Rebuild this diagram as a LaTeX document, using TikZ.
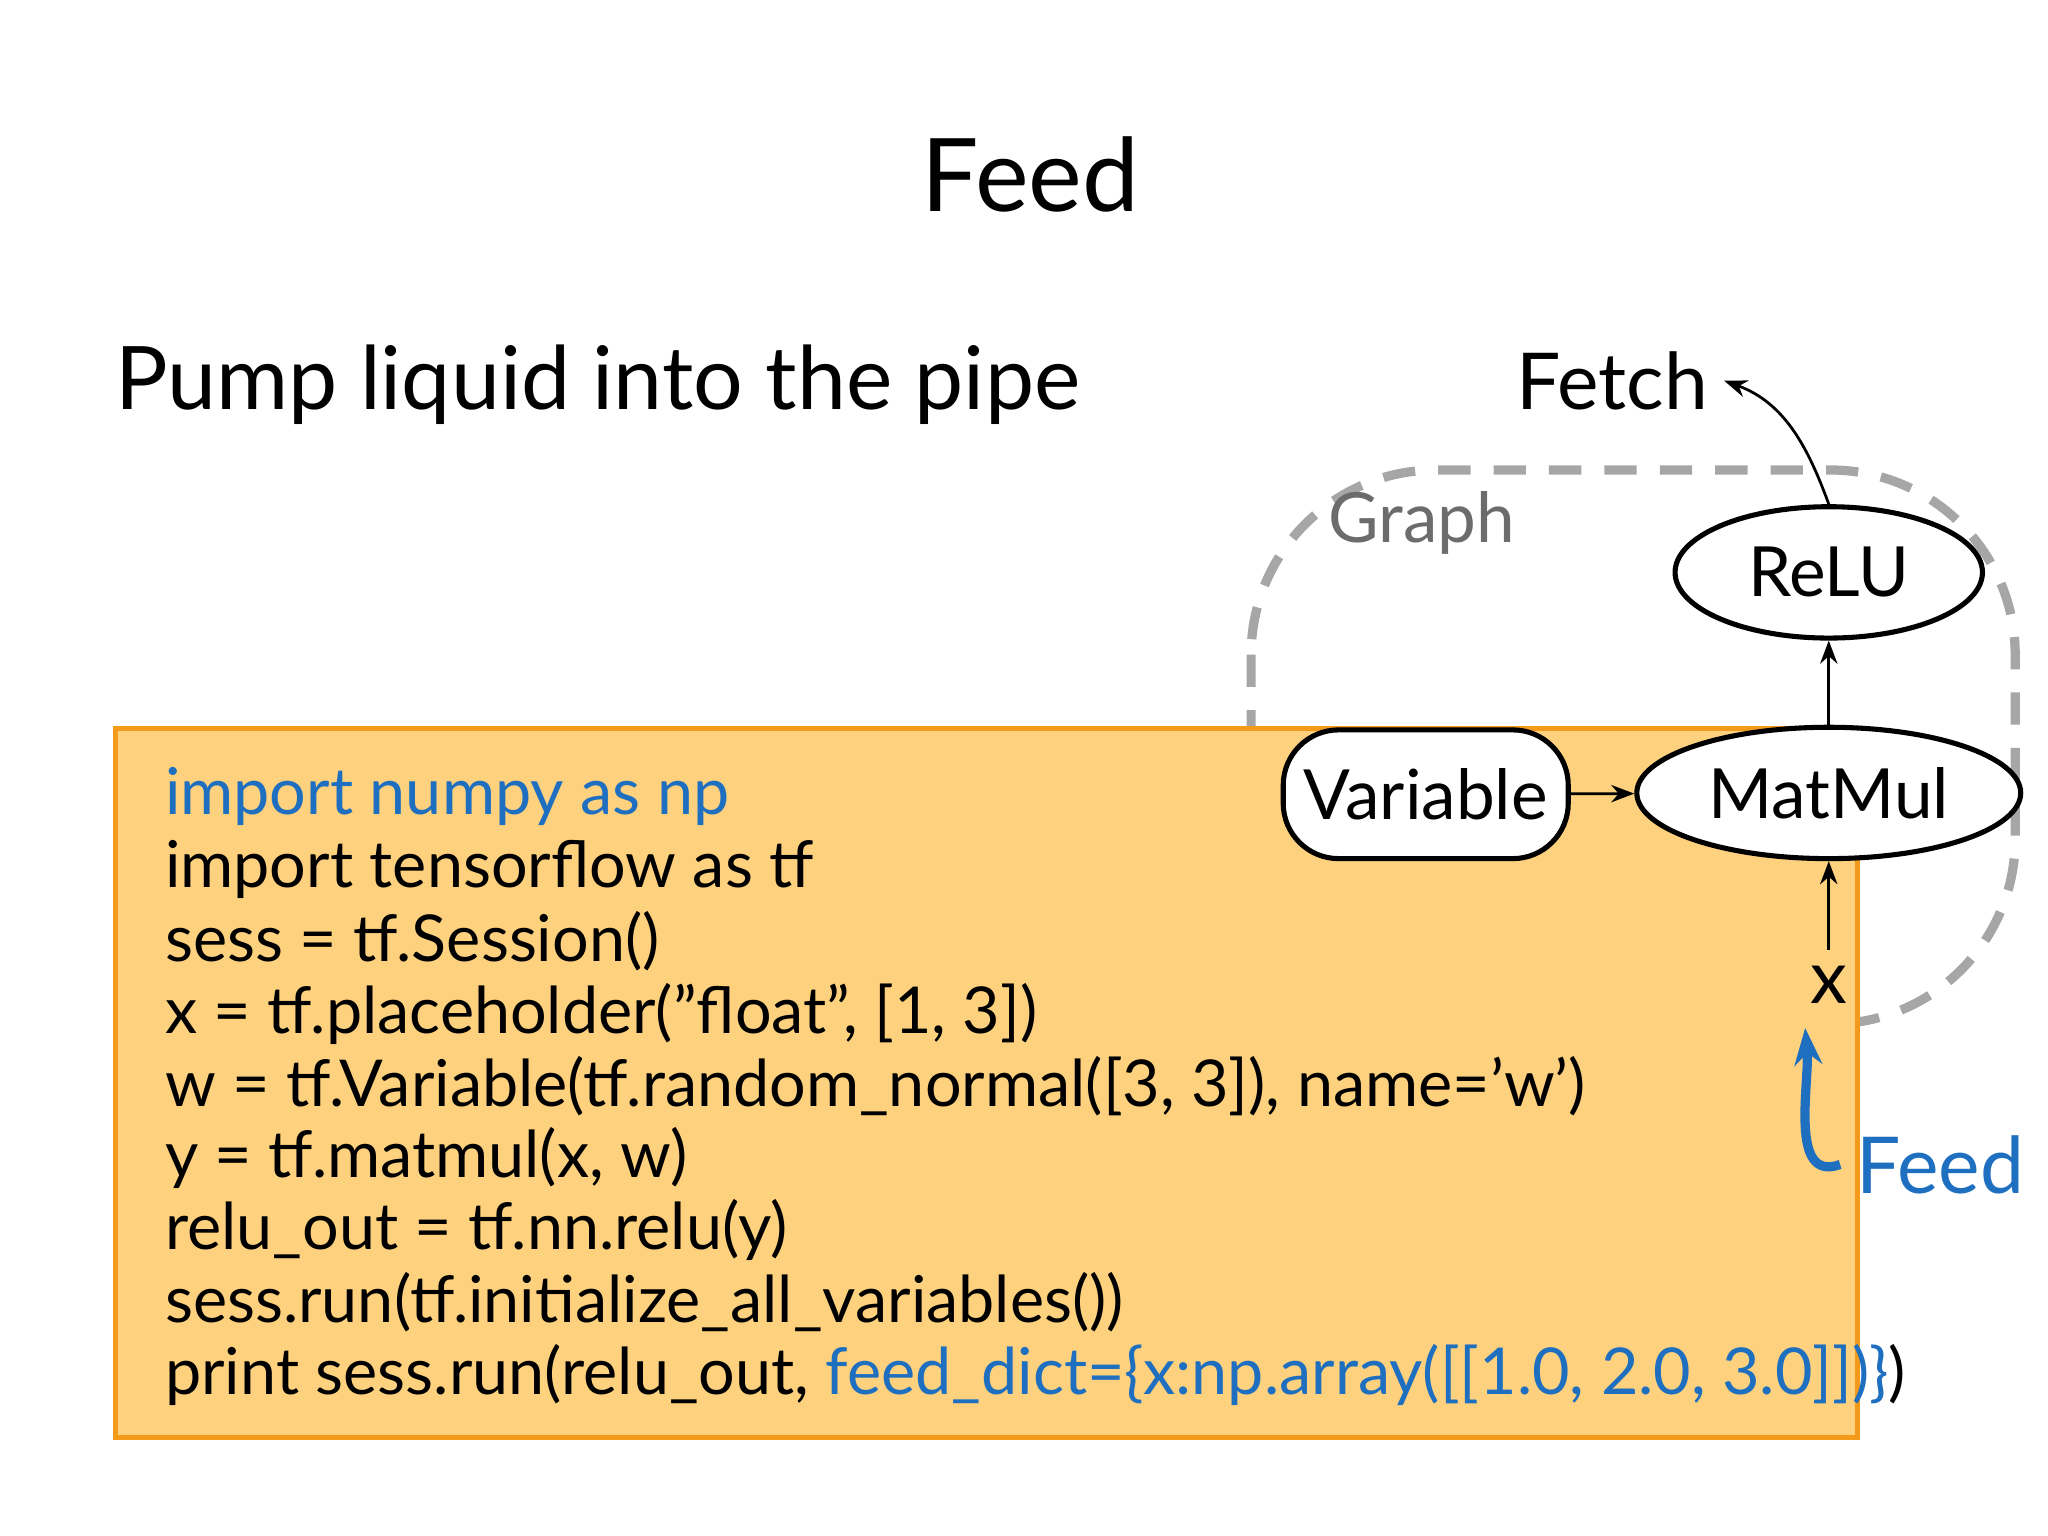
\documentclass[tikz,border=0pt]{standalone}
\usepackage{fontspec}
\setmainfont{Lato}
\usetikzlibrary{shapes.geometric,arrows.meta}
\definecolor{codeblue}{HTML}{1F6FC0}
\definecolor{boxfill}{HTML}{FDD17D}
\definecolor{boxline}{HTML}{F39A1B}
\begin{document}
\begin{tikzpicture}[x=0.01cm,y=-0.01cm,
  gnode/.style={draw=black,line width=1.1pt,fill=white,font=\fontsize{15}{18}\selectfont},
  arr/.style={-{Stealth[length=5pt]},line width=0.6pt},
  code/.style={anchor=west,font=\fontsize{14}{16}\selectfont,inner sep=0pt}]
\useasboundingbox (0,0) rectangle (1560,1170);
\node (title) at (785,133) {\fontsize{22}{26}\selectfont Feed};
\node[anchor=west,inner sep=0pt] (sub) at (87,293) {\fontsize{19}{22}\selectfont Pump liquid into the pipe};
\draw[gray!70,line width=2pt,dash pattern=on 7pt off 5pt,rounded corners=40] (953,358) rectangle (1535,780);
\node[text=gray!85!black] (graph) at (1083,398) {\fontsize{15}{18}\selectfont Graph};
\draw[boxline,fill=boxfill,line width=1.2pt] (88,555) rectangle (1415,1095);
\foreach \t [count=\i] in {
  {\color{codeblue}import numpy as np},
  {import tensorflow as tf},
  {sess = tf.Session()},
  {x = tf.placeholder("float", [1, 3])},
  {w = tf.Variable(tf.random\_normal([3, 3]), name='w')},
  {y = tf.matmul(x, w)},
  {relu\_out = tf.nn.relu(y)},
  {sess.run(tf.initialize\_all\_variables())},
  {print sess.run(relu\_out, {\color{codeblue}feed\_dict=\{x:np.array([[1.0, 2.0, 3.0]])\}})}}
  \node[code] (c\i) at (125,{552+55*\i}) {\t};
\node[gnode,ellipse,minimum width=234\pgflinewidth*0+2.34cm,minimum height=1.0cm] (relu) at (1393,436) {ReLU};
\node[gnode,ellipse,minimum width=2.34cm,minimum height=1.0cm] (matmul) at (1393,604) {MatMul};
\node[gnode,rounded corners=12pt,minimum width=2.17cm,minimum height=0.98cm] (var) at (1086,605) {Variable};
\node (x) at (1393,750) {\fontsize{16}{18}\selectfont x};
\node (fetch) at (1228,290) {\fontsize{17}{20}\selectfont Fetch};
\node[text=codeblue] (feed) at (1478,887) {\fontsize{17}{20}\selectfont Feed};
\draw[arr] (var) -- (matmul);
\draw[arr] (matmul) -- (relu);
\draw[arr] (x) -- (matmul);
\draw[arr] (relu.north) to[out=110,in=-20] (fetch.east);
\draw[-{Stealth[length=8pt]},codeblue,line width=2pt] (feed.west) to[out=200,in=-85] (1375,783);
\end{tikzpicture}
\end{document}
